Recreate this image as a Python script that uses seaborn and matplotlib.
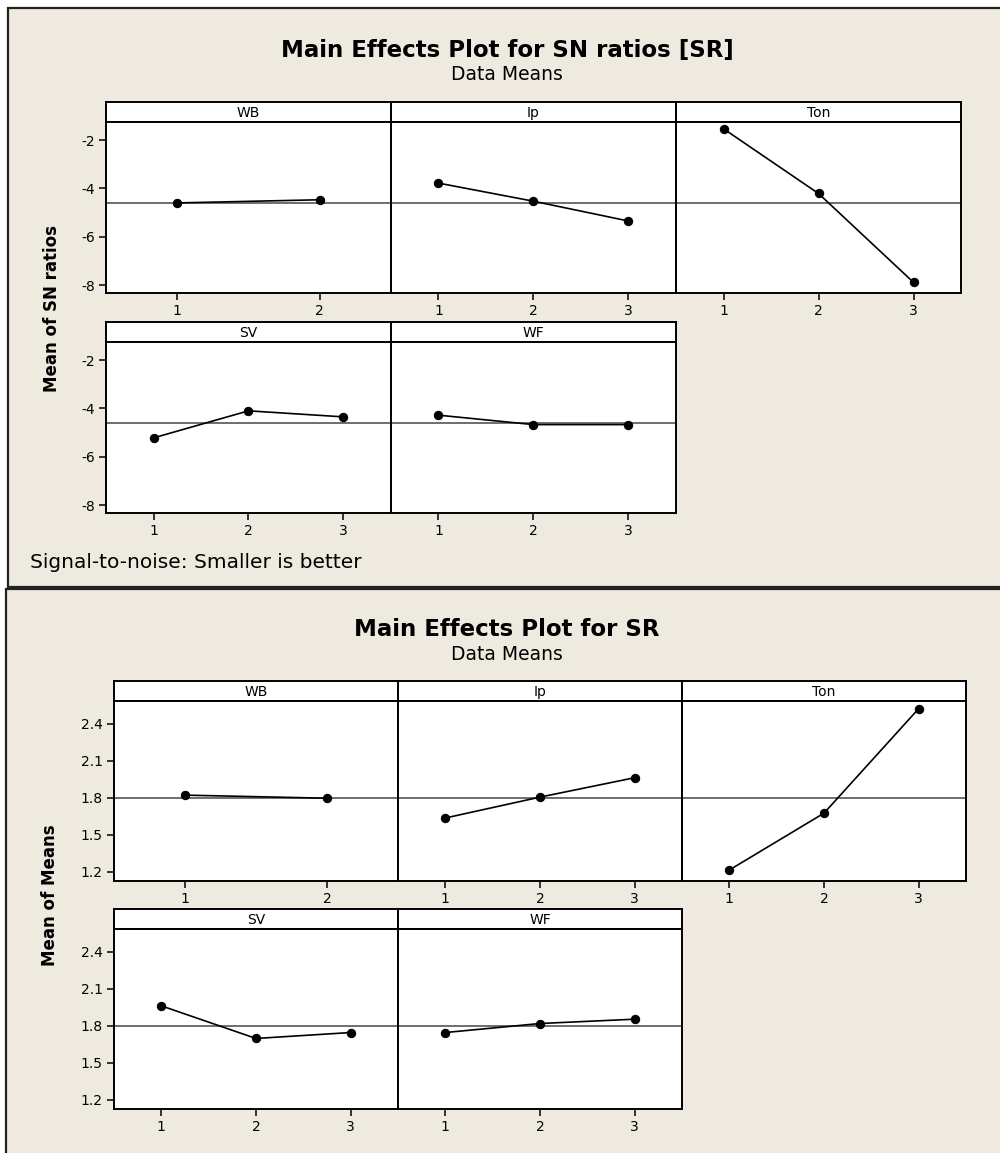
import matplotlib
matplotlib.use('Agg')
import matplotlib.pyplot as plt
from matplotlib.patches import Rectangle
import seaborn as sns

# main effects data
factors = ['WB', 'Ip', 'Ton', 'SV', 'WF']
sn_wb = [-4.60, -4.47]
sn_ip = [-3.78, -4.53, -5.35]
sn_ton = [-1.53, -4.21, -7.89]
sn_sv = [-5.22, -4.10, -4.35]
sn_wf = [-4.28, -4.67, -4.67]
sn_mean = -4.61
sn_ticks = [-2, -4, -6, -8]

mn_wb = [1.822, 1.797]
mn_ip = [1.637, 1.806, 1.963]
mn_ton = [1.216, 1.676, 2.522]
mn_sv = [1.962, 1.698, 1.746]
mn_wf = [1.746, 1.819, 1.854]
mn_mean = 1.80
mn_ticks = [1.2, 1.5, 1.8, 2.1, 2.4]

sns.set_theme(style='white')
plt.rcParams['font.family'] = ['DejaVu Sans']
plt.rcParams['text.color'] = 'black'
plt.rcParams['xtick.color'] = 'black'
plt.rcParams['ytick.color'] = 'black'

W, H = 1000, 1153
BG = '#EEEAE0'
fig = plt.figure(figsize=(W / 100, H / 100), dpi=100)
fig.patch.set_facecolor('white')


def fr(x, y, w, h):
    # pixel box (top-left origin) -> figure fraction
    return [x / W, 1 - (y + h) / H, w / W, h / H]


# beige frames behind everything
fig.patches.append(Rectangle((8 / W, 1 - 587 / H), 1.0, 579 / H, transform=fig.transFigure,
                             facecolor=BG, edgecolor='#222222', lw=1.6, zorder=-10))
fig.patches.append(Rectangle((6 / W, -0.01), 1.0, 1 - 589 / H + 0.01, transform=fig.transFigure,
                             facecolor=BG, edgecolor='#222222', lw=1.6, zorder=-10))


def panel(x, y, w, h, name, vals, mean, ylim, yticks, show_y, fmt):
    strip_h = 20
    sax = fig.add_axes(fr(x, y, w, strip_h))
    sax.set_facecolor('white')
    sax.set_xticks([])
    sax.set_yticks([])
    for s in sax.spines.values():
        s.set_color('black')
        s.set_linewidth(1.4)
    sax.text(0.5, 0.45, name, ha='center', va='center', fontsize=10, transform=sax.transAxes)

    ax = fig.add_axes(fr(x, y + strip_h, w, h - strip_h))
    ax.set_facecolor('white')
    lv = list(range(1, len(vals) + 1))
    ax.axhline(mean, color='#555555', lw=1.2, zorder=1)
    sns.lineplot(x=lv, y=vals, ax=ax, color='black', lw=1.2, marker='o',
                 markersize=6, markeredgecolor='black', zorder=3)
    ax.set_xlim(0.5, len(vals) + 0.5)
    ax.set_ylim(*ylim)
    ax.set_xticks(lv)
    ax.set_xticklabels([str(v) for v in lv], fontsize=10)
    ax.set_yticks(yticks)
    if show_y:
        ax.set_yticklabels([fmt.format(t) for t in yticks], fontsize=10)
    else:
        ax.set_yticklabels([])
    ax.tick_params(axis='both', direction='out', length=5, width=1.1, color='black', pad=3,
                   left=show_y, bottom=True)
    for s in ax.spines.values():
        s.set_color('black')
        s.set_linewidth(1.4)
    return ax


# top: SN ratios
sn_ylim = (-8.33, -1.25)
pw = 285
top_vals = [sn_wb, sn_ip, sn_ton, sn_sv, sn_wf]
pos_top = [(106, 102), (391, 102), (676, 102), (106, 322), (391, 322)]
for i, (name, vals) in enumerate(zip(factors, top_vals)):
    px, py = pos_top[i]
    panel(px, py, pw, 191, name, vals, sn_mean, sn_ylim, sn_ticks, px == 106, '{:g}')

fig.text(507 / W, 1 - 50 / H, 'Main Effects Plot for SN ratios [SR]', ha='center', va='center',
         fontsize=16.5, fontweight='bold')
fig.text(507 / W, 1 - 75 / H, 'Data Means', ha='center', va='center', fontsize=13.5)
fig.text(52 / W, 1 - 308 / H, 'Mean of SN ratios', ha='center', va='center', rotation=90,
         fontsize=12, fontweight='bold')
fig.text(30 / W, 1 - 563 / H, 'Signal-to-noise: Smaller is better', ha='left', va='center',
         fontsize=14.5)

# bottom: means
mn_ylim = (1.127, 2.584)
bot_vals = [mn_wb, mn_ip, mn_ton, mn_sv, mn_wf]
pos_bot = [(114, 681), (398, 681), (682, 681), (114, 909), (398, 909)]
for i, (name, vals) in enumerate(zip(factors, bot_vals)):
    px, py = pos_bot[i]
    panel(px, py, 284, 200, name, vals, mn_mean, mn_ylim, mn_ticks, px == 114, '{:.1f}')

fig.text(507 / W, 1 - 630 / H, 'Main Effects Plot for SR', ha='center', va='center',
         fontsize=16.5, fontweight='bold')
fig.text(507 / W, 1 - 654 / H, 'Data Means', ha='center', va='center', fontsize=13.5)
fig.text(50 / W, 1 - 895 / H, 'Mean of Means', ha='center', va='center', rotation=90,
         fontsize=12, fontweight='bold')

fig.savefig('out.png', dpi=100, facecolor=fig.get_facecolor())
